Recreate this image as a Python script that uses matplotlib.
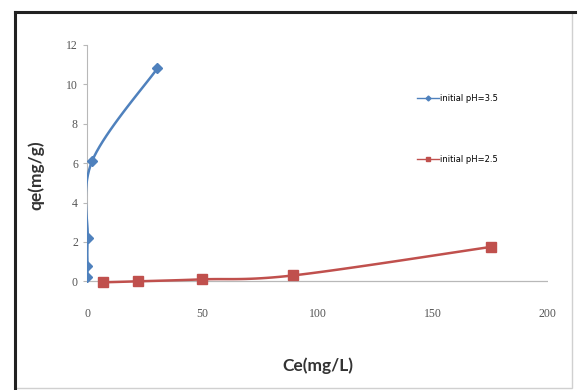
import numpy as np
import matplotlib
matplotlib.use('Agg')
import matplotlib.pyplot as plt
from matplotlib.patches import Rectangle

# initial pH = 3.5
ce_35 = [0.1, 0.2, 0.3, 2.2, 30.5]
qe_35 = [0.2, 0.8, 2.2, 6.1, 10.8]
# initial pH = 2.5
ce_25 = [7.0, 22.0, 50.0, 89.5, 175.5]
qe_25 = [-0.05, 0.0, 0.1, 0.3, 1.75]

x_ticks = [0, 50, 100, 150, 200]
y_ticks = [0, 2, 4, 6, 8, 10, 12]
labels = ['initial pH=3.5', 'initial pH=2.5']

def smooth(x, y, n=20):
    # catmull-rom style rendering of the line (Excel "smoothed line")
    x = np.asarray(x, float); y = np.asarray(y, float)
    px = np.concatenate([[x[0]], x, [x[-1]]])
    py = np.concatenate([[y[0]], y, [y[-1]]])
    xs, ys = [], []
    for i in range(1, len(px) - 2):
        t = np.linspace(0, 1, n)
        for p, out in ((px, xs), (py, ys)):
            p0, p1, p2, p3 = p[i-1], p[i], p[i+1], p[i+2]
            out.extend(0.5*((2*p1) + (-p0+p2)*t + (2*p0-5*p1+4*p2-p3)*t**2 + (-p0+3*p1-3*p2+p3)*t**3))
    return xs, ys

fig = plt.figure(figsize=(5.84, 3.90), dpi=100)
fig.patches.append(Rectangle((0.026, 0.005), 0.954, 0.965, transform=fig.transFigure,
                             fill=False, edgecolor='#d0d0d0', lw=1))
fig.add_artist(plt.Line2D([0.026, 0.026], [0.0, 0.97], color='#222222', lw=2.2, transform=fig.transFigure))
fig.add_artist(plt.Line2D([0.026, 0.985], [0.97, 0.97], color='#222222', lw=2.2, transform=fig.transFigure))

ax = fig.add_axes([0.149, 0.218, 0.789, 0.667])
blue = '#4F81BD'
red = '#C0504D'

sx, sy = smooth(ce_35, qe_35)
ax.plot(sx, sy, color=blue, lw=1.8, zorder=3)
ax.plot(ce_35, qe_35, 'D', color=blue, ms=5, zorder=4)
sx, sy = smooth(ce_25, qe_25)
ax.plot(sx, sy, color=red, lw=1.8, zorder=3)
ax.plot(ce_25, qe_25, 's', color=red, ms=7, zorder=4)

ax.set_xlim(0, 200)
ax.set_ylim(-1.2, 12)
ax.axhline(0, color='#b8b8b8', lw=0.9, zorder=1)
for s in ['top', 'right', 'bottom']:
    ax.spines[s].set_visible(False)
ax.spines['left'].set_color('#b8b8b8')
ax.spines['left'].set_bounds(0, 12)
ax.set_xticks(x_ticks)
ax.set_yticks(y_ticks)
ax.tick_params(axis='x', length=0, pad=2, labelsize=8.5, labelcolor='#555555')
ax.tick_params(axis='y', length=3, color='#b8b8b8', labelsize=8.5, labelcolor='#555555')
for lab in ax.get_xticklabels() + ax.get_yticklabels():
    lab.set_family('Liberation Serif')

ax.set_xlabel('Ce(mg/L)', fontsize=12.5, fontweight='bold', family='Lato', labelpad=27, color='#333333')
ax.set_ylabel('qe(mg/g)', fontsize=12.5, fontweight='bold', family='Lato', labelpad=16, color='#333333')

h1, = ax.plot([], [], color=blue, marker='D', ms=2.5, lw=1)
h2, = ax.plot([], [], color=red, marker='s', ms=3.5, lw=1)
ax.legend([h1, h2], labels, loc='upper left', bbox_to_anchor=(0.70, 0.84), frameon=False,
          fontsize=6, labelspacing=6.2, handlelength=2.6, handletextpad=0.2)

fig.savefig('out.png', dpi=100)
